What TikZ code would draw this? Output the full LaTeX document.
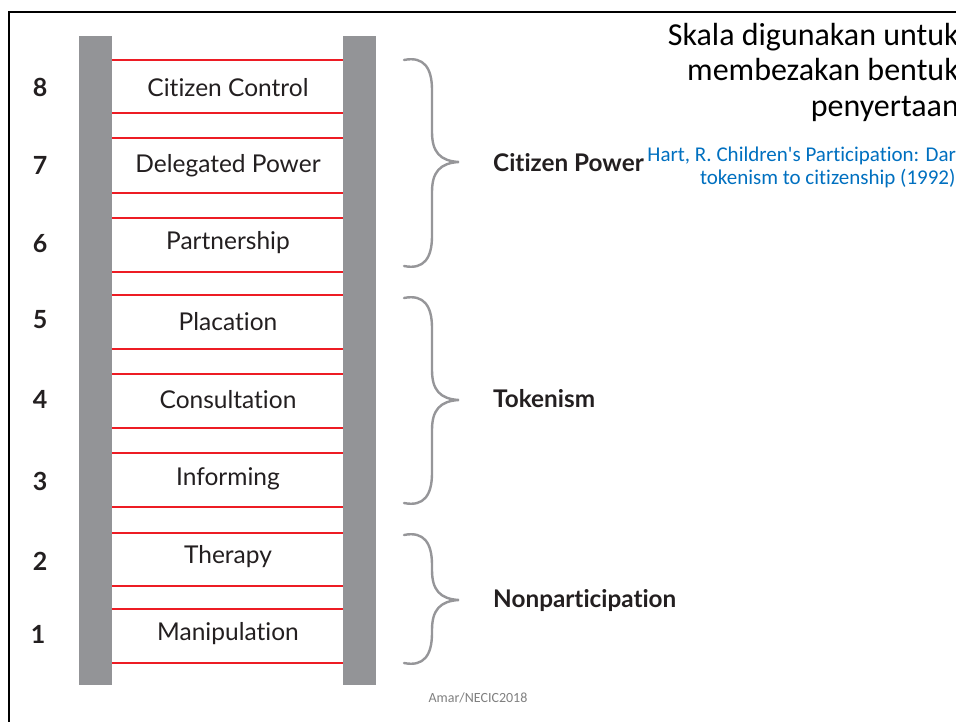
\documentclass[tikz,border=0pt]{standalone}
\usepackage{fontspec}
\setmainfont{Lato}[Ligatures=NoCommon]
\newfontfamily\calfont{Carlito}[Ligatures=NoCommon,RawFeature={-liga;-dlig}]
\newfontfamily\ladfont{Lato}[Ligatures=NoCommon,RawFeature={-liga;-dlig}]
\definecolor{railgray}{RGB}{147,148,151}
\definecolor{bracegray}{RGB}{150,150,153}
\definecolor{rungred}{RGB}{237,28,36}
\definecolor{hartblue}{RGB}{0,112,192}
\definecolor{txtdark}{RGB}{35,31,32}
\newcommand{\ladbrace}[4]{%
  \draw[bracestyle] (404,#2) .. controls (424,#2-4) and (432,#2+8) .. (432,#2+30)
    -- (432,#3-30) .. controls (432,#3-10) and (440,#3-1) .. (459,#3)
    .. controls (440,#3+1) and (432,#3+10) .. (432,#3+30)
    -- (432,#4-30) .. controls (432,#4-8) and (424,#4+4) .. (404,#4);
  \coordinate (#1) at (459,#3);}
\begin{document}
\begin{tikzpicture}[x=1pt,y=-1pt,
  rail/.style={fill=railgray,draw=none},
  rung/.style={rectangle,draw=none,minimum width=231pt,inner sep=0pt},
  redline/.style={draw=rungred,line width=1.6pt},
  steptext/.style={anchor=base,text=txtdark,font=\ladfont\fontsize{24.5}{28}\selectfont},
  numtext/.style={anchor=base,text=txtdark,font=\ladfont\bfseries\fontsize{25}{28}\selectfont},
  grouptext/.style={anchor=base west,inner sep=0pt,text=txtdark,font=\ladfont\bfseries\fontsize{24.3}{28}\selectfont},
  bracestyle/.style={draw=bracegray,line width=2.4pt,line cap=round},
  frame/.style={draw=black,line width=2.5pt}]
\useasboundingbox (0,0) rectangle (956,722);
\clip (0,0) rectangle (956,722);
\fill[white] (0,0) rectangle (956,722);
\draw[frame] (9,740) -- (9,12) -- (980,12);
% rails
\node[rail,rectangle,minimum width=33pt,minimum height=649pt,inner sep=0pt] (railL) at (95.5,360.5) {};
\node[rail,rectangle,minimum width=33pt,minimum height=649pt,inner sep=0pt] (railR) at (359.5,360.5) {};
% rungs
\foreach \n/\t/\b in {8/60/113,7/138/193,6/218/272,5/295/349,4/374/428,3/453/507,2/533/586,1/609/663}{
  \node[rung,minimum height={\b-\t}] (r\n) at (227.5,{(\t+\b)/2}) {};
  \draw[redline] (r\n.north west) -- (r\n.north east);
  \draw[redline] (r\n.south west) -- (r\n.south east);
}
% step texts
\node[steptext] (s8) at (228,97) {Citizen Control};
\node[steptext] (s7) at (228,173) {Delegated Power};
\node[steptext] (s6) at (228,250) {Partnership};
\node[steptext] (s5) at (228,330) {Placation};
\node[steptext] (s4) at (228,408) {Consultation};
\node[steptext] (s3) at (228,485) {Informing};
\node[steptext] (s2) at (228,563) {Therapy};
\node[steptext] (s1) at (228,640) {Manipulation};
% numbers
\node[numtext] (n8) at (40,97) {8};
\node[numtext] (n7) at (40,175) {7};
\node[numtext] (n6) at (40,253) {6};
\node[numtext] (n5) at (40,328) {5};
\node[numtext] (n4) at (40,408) {4};
\node[numtext] (n3) at (40,490) {3};
\node[numtext] (n2) at (40,570) {2};
\node[numtext] (n1) at (38,643) {1};
% braces
\ladbrace{bCP}{60}{162}{266}
\ladbrace{bTK}{298}{400}{503}
\ladbrace{bNP}{535}{600}{663}
\node[grouptext] (gCP) at (493,172) {Citizen Power};
\node[grouptext] (gTK) at (493,407) {Tokenism};
\node[grouptext] (gNP) at (493,607) {Nonparticipation};
% top-right text
\node[anchor=north east,align=right,inner sep=0pt,font=\calfont\fontsize{32}{35.5}\selectfont,text=black] (title) at (959,23)
  {Skala digunakan untuk\\membezakan bentuk\\penyertaan};
\node[anchor=base east,align=right,inner sep=0pt,font=\calfont\fontsize{21}{23}\selectfont,text=hartblue] (hart) at (961,185)
  {Hart, R. Children's Participation: Dari\\tokenism to citizenship (1992).};
\node[anchor=base,inner sep=0pt,font=\calfont\fontsize{14}{16}\selectfont,text=gray] (foot) at (478,702) {Amar/NECIC2018};
\end{tikzpicture}
\end{document}
